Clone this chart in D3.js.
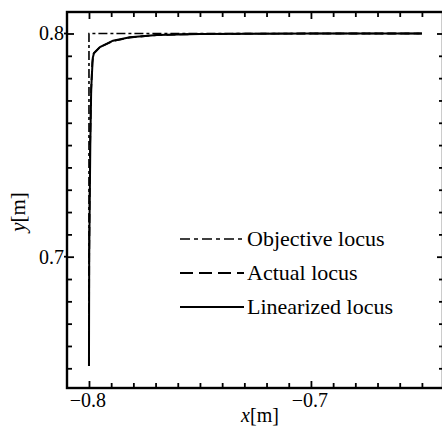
<!DOCTYPE html>
<html><head><meta charset="utf-8">
<script src="https://cdn.jsdelivr.net/npm/d3@7"></script>
<style>body{margin:0;background:#fff}svg{display:block}</style>
</head><body>
<svg id="c" width="442" height="428"></svg>
<script>
// Data
const objectiveX = [-0.8, -0.8, -0.65];
const objectiveY = [0.651, 0.8, 0.8];
const actualX = [-0.8, -0.7999, -0.7995, -0.7990, -0.7985, -0.7979, -0.7952, -0.7893, -0.7817, -0.7695, -0.750, -0.720, -0.700, -0.650];
const actualY = [0.651, 0.700, 0.750, 0.775, 0.787, 0.7910, 0.7938, 0.7966, 0.7982, 0.7993, 0.7998, 0.79995, 0.8, 0.8];
const linX = [-0.8, -0.7999, -0.7994, -0.7990, -0.7983, -0.79775, -0.79505, -0.78919, -0.78153, -0.76937, -0.750, -0.720, -0.700, -0.650];
const linY = [0.651, 0.700, 0.750, 0.775, 0.789, 0.79126, 0.79395, 0.79677, 0.7983, 0.79933, 0.79978, 0.7999, 0.79995, 0.8];
const xMajor = [-0.8, -0.7];
const yMajor = [0.8, 0.7];
const xTickLabels = ["\u22120.8", "\u22120.7"];
const yTickLabels = ["0.8", "0.7"];
const legendLabels = ["Objective locus", "Actual locus", "Linearized locus"];

const L = 67, R = 443, T = 12, B = 388;
const x = d3.scaleLinear().domain([-0.8099, -0.6405]).range([L, R]);
const y = d3.scaleLinear().domain([0.64117, 0.80963]).range([B, T]);
const svg = d3.select("#c");
const font = "'Liberation Serif', 'Times New Roman', serif";

const xMinor = d3.range(-0.81, -0.6405, 0.01).map(v => +v.toFixed(3)).filter(v => v >= -0.8099 && !xMajor.some(m => Math.abs(m - v) < 1e-6));
const yMinor = d3.range(0.65, 0.81, 0.01).map(v => +v.toFixed(3)).filter(v => v <= 0.8096 && !yMajor.some(m => Math.abs(m - v) < 1e-6));

function ticks(axisFn, scale, vals, size, tr) {
  const g = svg.append("g").attr("transform", tr)
    .call(axisFn(scale).tickValues(vals).tickSize(size).tickFormat(""));
  g.select(".domain").remove();
  g.selectAll(".tick line").attr("stroke", "#000").attr("stroke-width", 1.8);
  return g;
}
// bottom (inward)
ticks(d3.axisTop, x, xMinor, 5, `translate(0,${B})`);
ticks(d3.axisTop, x, xMajor, 7, `translate(0,${B})`);
// top (inward)
ticks(d3.axisBottom, x, xMinor, 5, `translate(0,${T})`);
ticks(d3.axisBottom, x, xMajor, 7, `translate(0,${T})`);
// left
ticks(d3.axisRight, y, yMinor, 5, `translate(${L},0)`);
ticks(d3.axisRight, y, yMajor, 7, `translate(${L},0)`);
svg.append("g").selectAll("line").data(yMajor).join("line")
  .attr("x1", L - 3).attr("x2", L).attr("y1", d => y(d)).attr("y2", d => y(d))
  .attr("stroke", "#000").attr("stroke-width", 1.8);
// right
ticks(d3.axisLeft, y, yMinor, 4, `translate(${R},0)`);
ticks(d3.axisLeft, y, yMajor, 6, `translate(${R},0)`);

// frame
svg.append("rect").attr("x", L).attr("y", T).attr("width", R - L).attr("height", B - T)
  .attr("fill", "none").attr("stroke", "#000").attr("stroke-width", 2.4);

// tick labels
svg.append("g").selectAll("text").data(xMajor).join("text")
  .attr("x", d => x(d) - 1).attr("y", 407).attr("text-anchor", "middle")
  .attr("font-family", font).attr("font-size", 20).text((d, i) => xTickLabels[i]);
svg.append("g").selectAll("text").data(yMajor).join("text")
  .attr("x", 64).attr("y", d => y(d) + 7).attr("text-anchor", "end")
  .attr("font-family", font).attr("font-size", 20).text((d, i) => yTickLabels[i]);

// axis labels
const xl = svg.append("text").attr("x", 260).attr("y", 422).attr("text-anchor", "middle")
  .attr("font-family", font).attr("font-size", 20);
xl.append("tspan").attr("font-style", "italic").text("x");
xl.append("tspan").text("[m]");
const yl = svg.append("text").attr("transform", "translate(25,212) rotate(-90)").attr("text-anchor", "middle")
  .attr("font-family", font).attr("font-size", 21);
yl.append("tspan").attr("font-style", "italic").text("y");
yl.append("tspan").text("[m]");

// lines
const line = d3.line().x(d => x(d[0])).y(d => y(d[1]));
const styles = [
  {dash: "9,3,3,3", w: 1.6},
  {dash: "9,4", w: 1.8},
  {dash: null, w: 2}
];
const series = [d3.zip(objectiveX, objectiveY), d3.zip(actualX, actualY), d3.zip(linX, linY)];
series.forEach((s, i) => {
  svg.append("path").datum(s).attr("d", line).attr("fill", "none")
    .attr("stroke", "#000").attr("stroke-width", styles[i].w)
    .attr("stroke-dasharray", styles[i].dash);
});

// legend
const lg = svg.append("g");
legendLabels.forEach((t, i) => {
  const yy = 239 + i * 34;
  lg.append("line").attr("x1", 180).attr("x2", 244).attr("y1", yy).attr("y2", yy)
    .attr("stroke", "#000").attr("stroke-width", styles[i].w)
    .attr("stroke-dasharray", i === 0 ? "10,4,4,4" : i === 1 ? "13,6" : null);
  lg.append("text").attr("x", 247).attr("y", yy + 7).attr("font-family", font)
    .attr("font-size", 22).text(t);
});
</script>
</body></html>
